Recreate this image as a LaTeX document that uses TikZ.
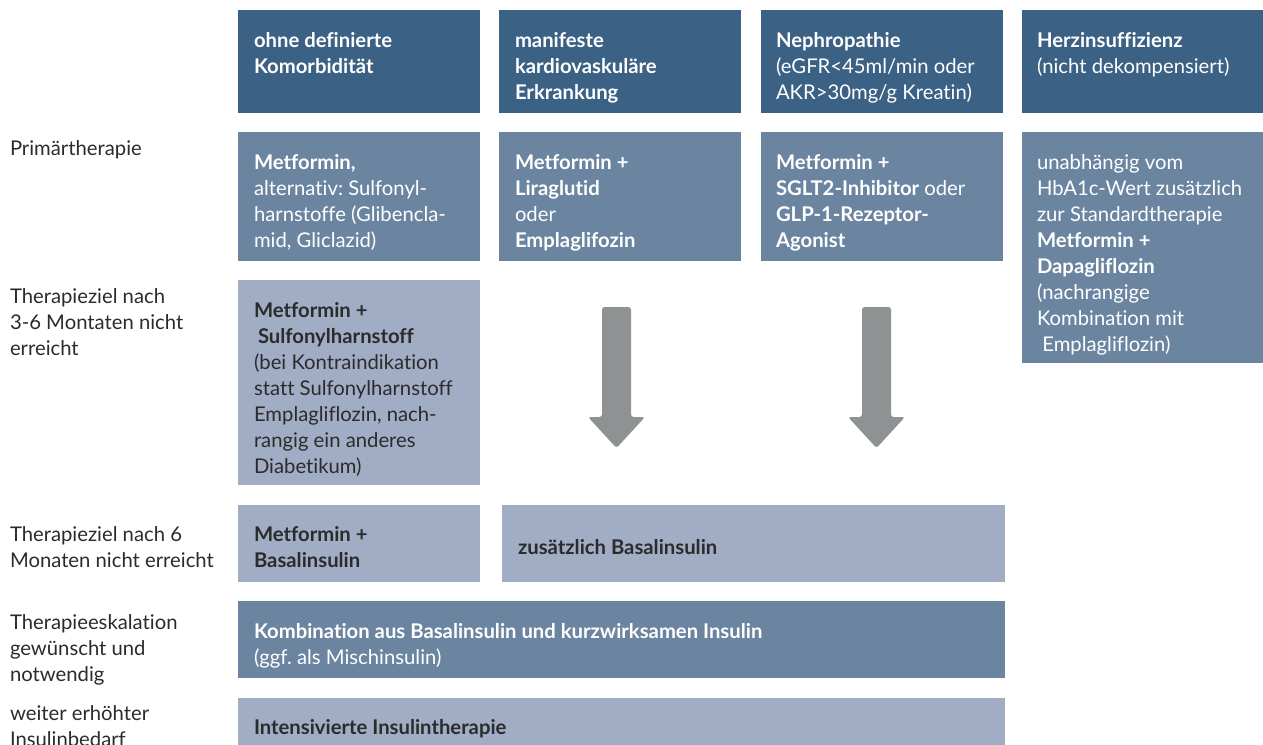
\documentclass[tikz,border=0pt]{standalone}
\usepackage{fontspec}
\setmainfont{Lato}[Ligatures=NoCommon]
\usetikzlibrary{calc,fit}
\definecolor{hdr}{HTML}{3B6184}
\definecolor{mid}{HTML}{6B85A1}
\definecolor{lite}{HTML}{A0ADC4}
\definecolor{arr}{HTML}{8E9292}
\definecolor{ink}{HTML}{2B2B2B}
\newcommand\fst{\rule{0pt}{14pt}}
\frenchspacing
\begin{document}
\begin{tikzpicture}[x=0.75pt,y=-0.75pt,
  cellbox/.style={inner sep=0pt, outer sep=0pt, draw=none},
  txt/.style={anchor=north west, inner sep=0pt, outer sep=0pt, align=left, font=\fontsize{15.2}{19.5}\selectfont},
  wtxt/.style={txt, text=white},
  dtxt/.style={txt, text=ink},
  bigarrow/.style={fill=arr, rounded corners=2pt}]
\useasboundingbox (0,0) rectangle (1263,744);
% row 1
\node[cellbox, fill=hdr, fit={(238,10) (480,113)}] (h1) {};
\node[cellbox, fill=hdr, fit={(499,10) (741,113)}] (h2) {};
\node[cellbox, fill=hdr, fit={(761,10) (1003,113)}] (h3) {};
\node[cellbox, fill=hdr, fit={(1022,10) (1263,113)}] (h4) {};
% row 2
\node[cellbox, fill=mid, fit={(238,132) (480,261)}] (p1) {};
\node[cellbox, fill=mid, fit={(499,132) (741,261)}] (p2) {};
\node[cellbox, fill=mid, fit={(761,132) (1003,261)}] (p3) {};
\node[cellbox, fill=mid, fit={(1022,132) (1263,363)}] (p4) {};
% row 3
\node[cellbox, fill=lite, fit={(238,280) (480,485)}] (s1) {};
% row 4
\node[cellbox, fill=lite, fit={(238,505) (480,582)}] (b1) {};
\node[cellbox, fill=lite, fit={(502,505) (1005,582)}] (b2) {};
% row 5
\node[cellbox, fill=mid, fit={(238,601) (1005,678)}] (k1) {};
% row 6
\node[cellbox, fill=lite, fit={(238,698) (1005,760)}] (i1) {};

% texts
\node[wtxt] (h1t) at ($(h1.north west)+(16,19.3)$) {\fst\textbf{ohne definierte}\\\textbf{Komorbidität}};
\node[wtxt] (h2t) at ($(h2.north west)+(16,19.3)$) {\fst\textbf{manifeste}\\\textbf{kardiovaskuläre}\\\textbf{Erkrankung}};
\node[wtxt] (h3t) at ($(h3.north west)+(15,19.3)$) {\fst\textbf{Nephropathie}\\(eGFR<45ml/min oder\\AKR>30mg/g Kreatin)};
\node[wtxt] (h4t) at ($(h4.north west)+(15,19.3)$) {\fst\textbf{Herzinsuffizienz}\\(nicht dekompensiert)};

\node[wtxt] (p1t) at ($(p1.north west)+(16,19.3)$) {\fst\textbf{Metformin,}\\alternativ: Sulfonyl-\\harnstoffe (Glibencla-\\mid, Gliclazid)};
\node[wtxt] (p2t) at ($(p2.north west)+(16,19.3)$) {\fst\textbf{Metformin +}\\\textbf{Liraglutid}\\oder\\\textbf{Emplaglifozin}};
\node[wtxt] (p3t) at ($(p3.north west)+(15,19.3)$) {\fst\textbf{Metformin +}\\\textbf{SGLT2-Inhibitor} oder\\\textbf{GLP-1-Rezeptor-}\\\textbf{Agonist}};
\node[wtxt] (p4t) at ($(p4.north west)+(15,19.3)$) {\fst unabhängig vom\\HbA1c-Wert zusätzlich\\zur Standardtherapie\\\textbf{Metformin +}\\\textbf{Dapagliflozin}\\(nachrangige\\Kombination mit\\\hspace{4pt}Emplagliflozin)};

\node[dtxt] (s1t) at ($(s1.north west)+(16,19.3)$) {\fst\textbf{Metformin +}\\\hspace{3pt}\textbf{Sulfonylharnstoff}\\(bei Kontraindikation\\statt Sulfonylharnstoff\\Emplagliflozin, nach-\\rangig ein anderes\\Diabetikum)};

\node[dtxt] (b1t) at ($(b1.north west)+(16,18.3)$) {\fst\textbf{Metformin +}\\\textbf{Basalinsulin}};
\node[dtxt] (b2t) at ($(b2.north west)+(16,31.3)$) {\fst\textbf{zusätzlich Basalinsulin}};
\node[wtxt] (k1t) at ($(k1.north west)+(16,19.3)$) {\fst\textbf{Kombination aus Basalinsulin und kurzwirksamen Insulin}\\(ggf. als Mischinsulin)};
\node[dtxt] (i1t) at ($(i1.north west)+(16,18.3)$) {\fst\textbf{Intensivierte Insulintherapie}};

% left labels
\node[dtxt] (l1) at (10,137.3) {\fst Primärtherapie};
\node[dtxt] (l2) at (10,285.3) {\fst Therapieziel nach\\3-6 Montaten nicht\\erreicht};
\node[dtxt] (l3) at (10,523.3) {\fst Therapieziel nach 6\\Monaten nicht erreicht};
\node[dtxt] (l4) at (10,611.3) {\fst Therapieeskalation\\gewünscht und\\notwendig};
\node[dtxt] (l5) at (10,702.3) {\fst weiter erhöhter\\Insulinbedarf};

% arrows
\fill[bigarrow] (602,307) -- (631,307) -- (631,417) -- (645,417) -- (616.5,448) -- (588,417) -- (602,417) -- cycle;
\fill[bigarrow] (862,307) -- (891,307) -- (891,417) -- (905,417) -- (876.5,448) -- (848,417) -- (862,417) -- cycle;
\end{tikzpicture}
\end{document}
